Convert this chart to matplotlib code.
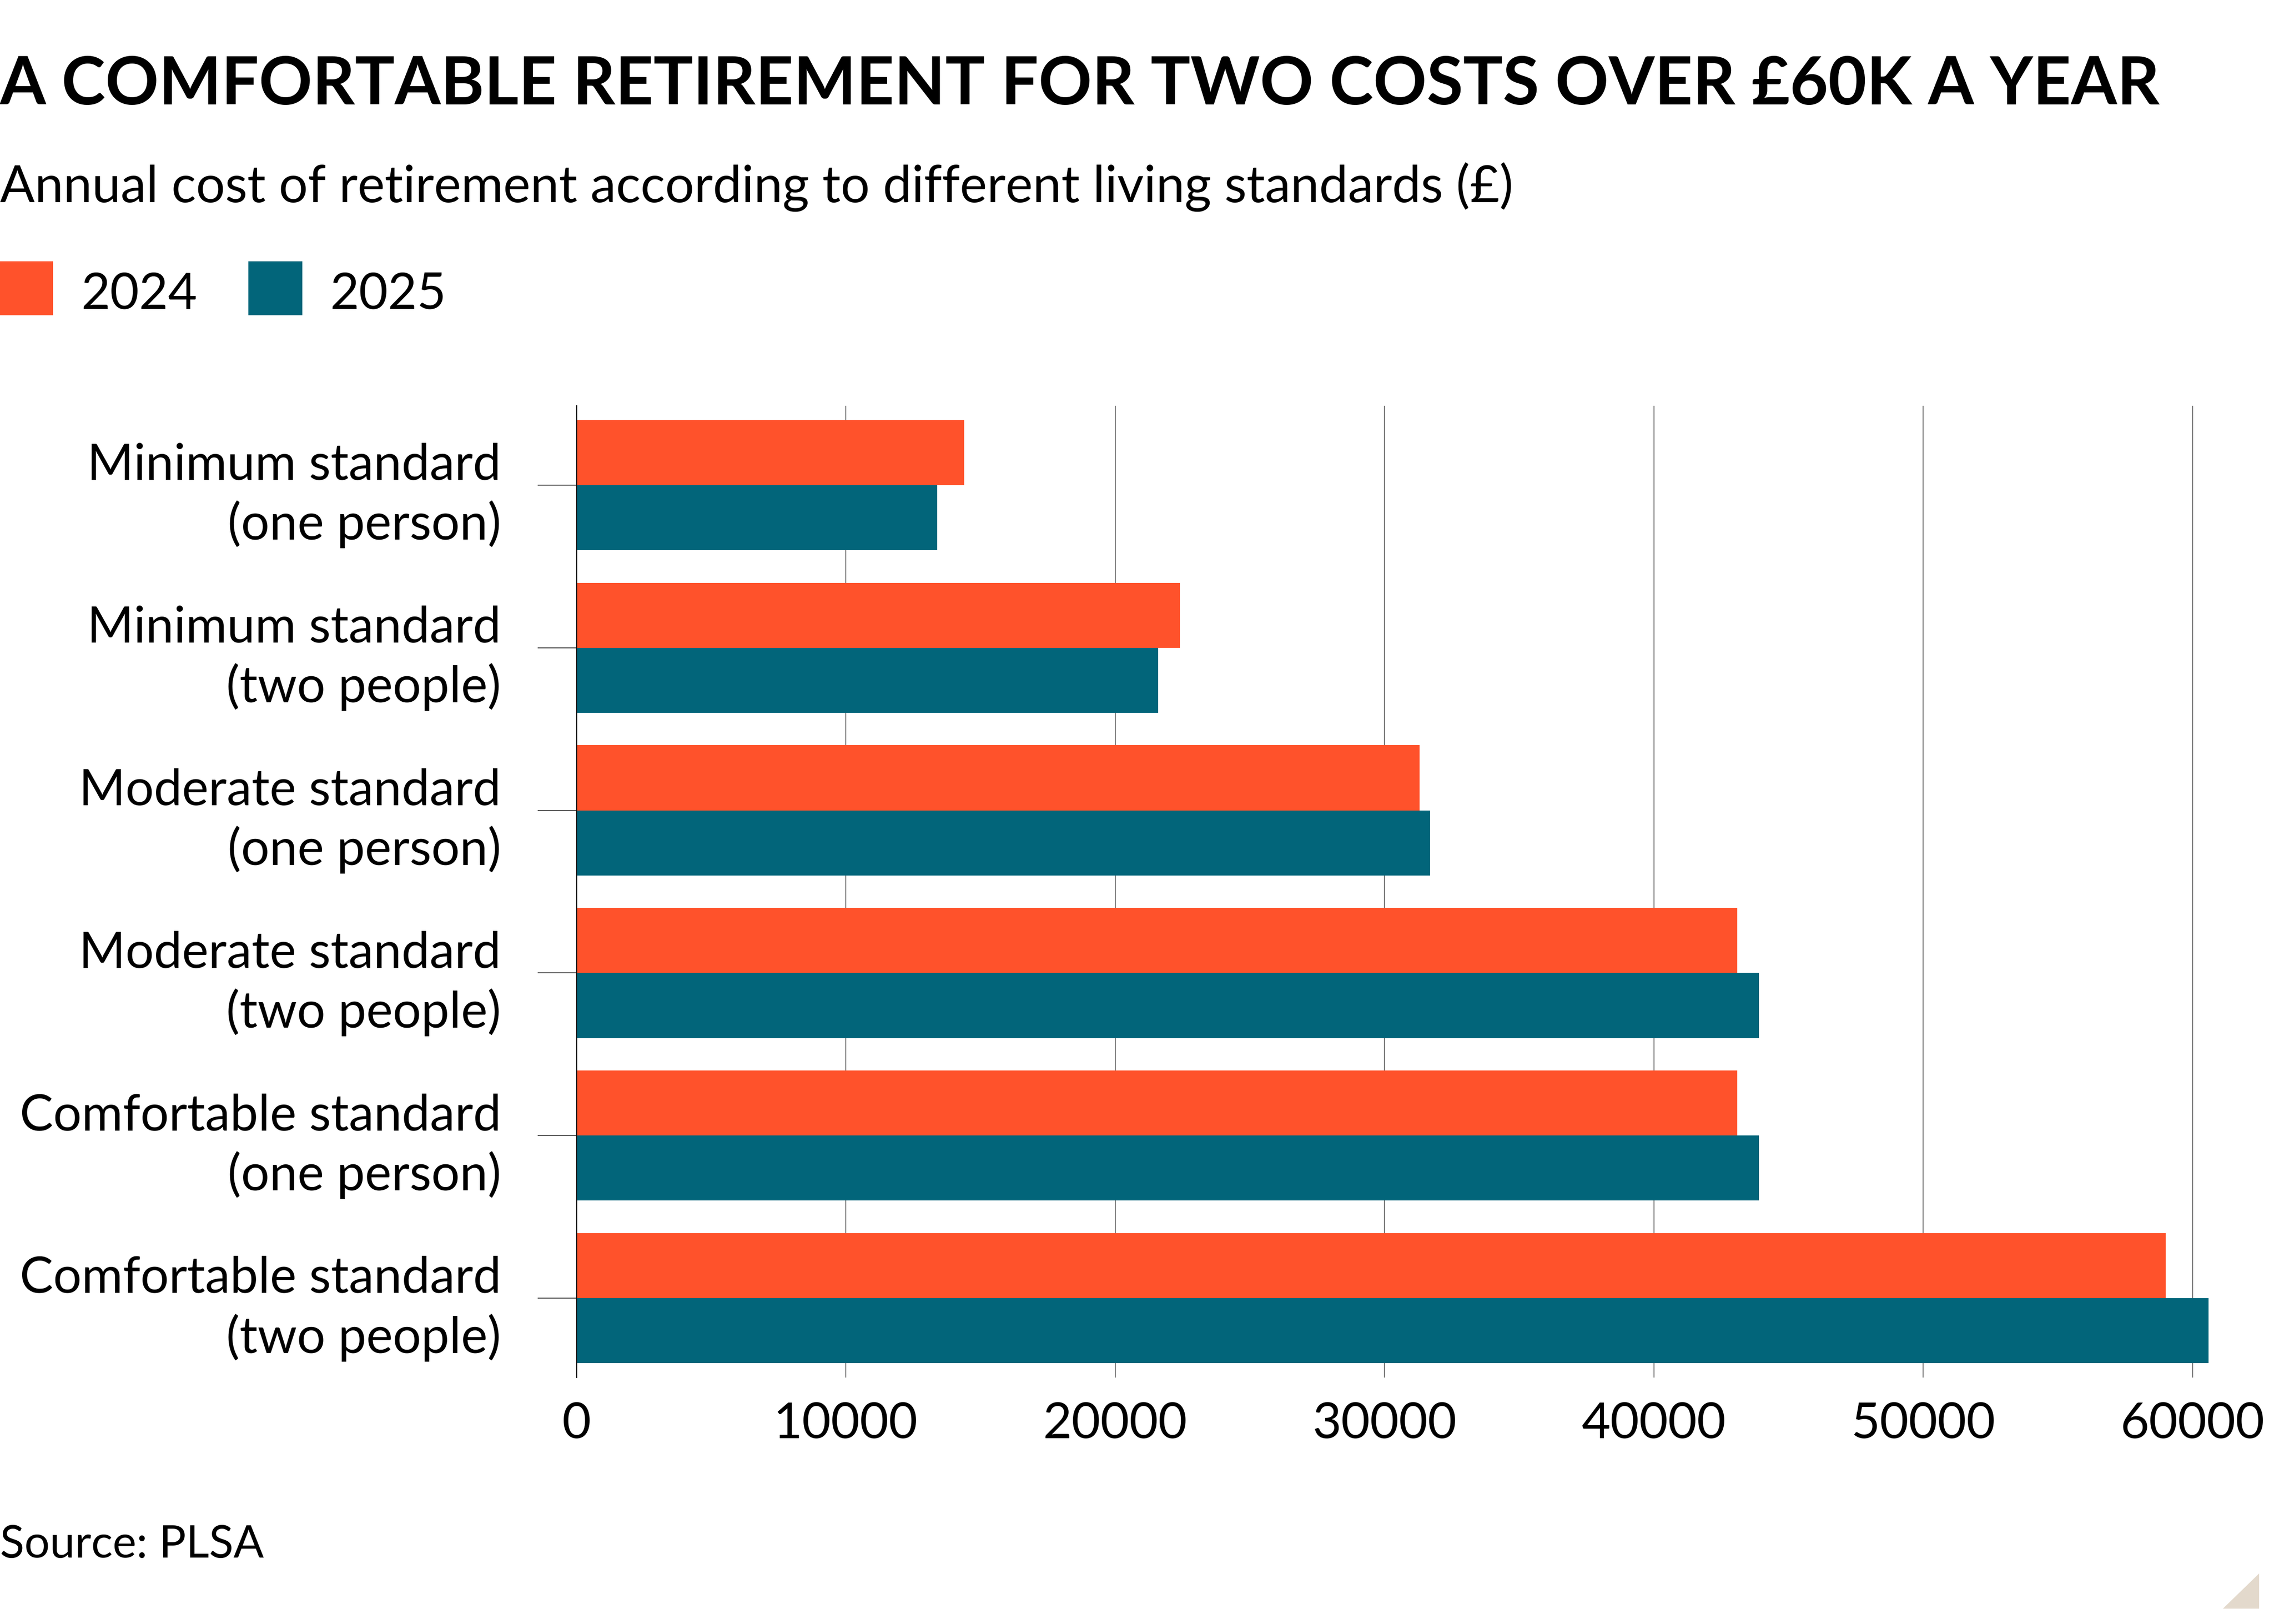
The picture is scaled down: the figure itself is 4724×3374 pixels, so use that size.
import matplotlib
matplotlib.use("Agg")
import matplotlib.pyplot as plt
from matplotlib.patches import Rectangle, Polygon
import numpy as np

categories = [
    "Minimum standard\n(one person)",
    "Minimum standard\n(two people)",
    "Moderate standard\n(one person)",
    "Moderate standard\n(two people)",
    "Comfortable standard\n(one person)",
    "Comfortable standard\n(two people)",
]
values_2024 = [14400, 22400, 31300, 43100, 43100, 59000]
values_2025 = [13400, 21600, 31700, 43900, 43900, 60600]
series_names = ["2024", "2025"]
x_ticks = [0, 10000, 20000, 30000, 40000, 50000, 60000]

orange = "#ff522b"
teal = "#02657a"

W, H = 4724, 3374
DPI = 300

plt.rcParams["font.family"] = ["Lato", "DejaVu Sans"]

fig = plt.figure(figsize=(W / DPI, H / DPI), dpi=DPI)
fig.patch.set_facecolor("white")

# axes box in pixels: left 1197.5, right ~4666, top 843, bottom 2862
ax = fig.add_axes([1197.5 / W, 1 - 2862 / H, (4666.4 - 1197.5) / W, (2862 - 843) / H])

y = np.arange(len(categories))
ax.barh(y - 0.2, values_2024, height=0.4, color=orange, label=series_names[0], zorder=2)
ax.barh(y + 0.2, values_2025, height=0.4, color=teal, label=series_names[1], zorder=2)

ax.set_ylim(len(categories) - 0.512, -0.488)
ax.set_xlim(0, 62000)

ax.set_yticks(y)
ax.set_yticklabels(categories, fontsize=25, linespacing=1.31)
ax.set_xticks(x_ticks)
ax.set_xticklabels([str(t) for t in x_ticks], fontsize=24.8)

ax.tick_params(axis="y", length=19.4, width=0.5, color="#555555", pad=18.2)
ax.tick_params(axis="x", length=0, pad=12)

ax.set_axisbelow(True)
ax.grid(axis="x", color="#777777", linewidth=0.5)
ax.grid(axis="y", visible=False)

for side in ["top", "right", "bottom"]:
    ax.spines[side].set_visible(False)
ax.spines["left"].set_color("#111111")
ax.spines["left"].set_linewidth(0.5)
ax.spines["left"].set_zorder(3)

# titles
fig.text(0, 1 - 216.5 / H, "A COMFORTABLE RETIREMENT FOR TWO COSTS OVER £60K A YEAR",
         fontsize=33, fontweight="bold", ha="left", va="baseline")
fig.text(0, 1 - 420.5 / H, "Annual cost of retirement according to different living standards (£)",
         fontsize=25.6, ha="left", va="baseline")

# legend
legend_sq_x = [0, 518]
legend_txt_x = [168, 685]
for name, col, sx, tx in zip(series_names, [orange, teal], legend_sq_x, legend_txt_x):
    fig.patches.append(Rectangle((sx / W, 1 - 653 / H), 108 / W, 108 / H,
                                 transform=fig.transFigure, color=col))
    fig.text(tx / W, 1 - 641.5 / H, name, fontsize=25, ha="left", va="baseline")

fig.text(0, 1 - 3236 / H, "Source: PLSA", fontsize=22.4, ha="left", va="baseline")

# corner mark
corner = [(4623 / W, 1 - 3340 / H), (4691 / W, 1 - 3340 / H), (4691 / W, 1 - 3274 / H)]
fig.patches.append(Polygon(corner, closed=True, transform=fig.transFigure,
                           color="#e3d9cc"))

fig.savefig("out.png", dpi=DPI, facecolor="white")
